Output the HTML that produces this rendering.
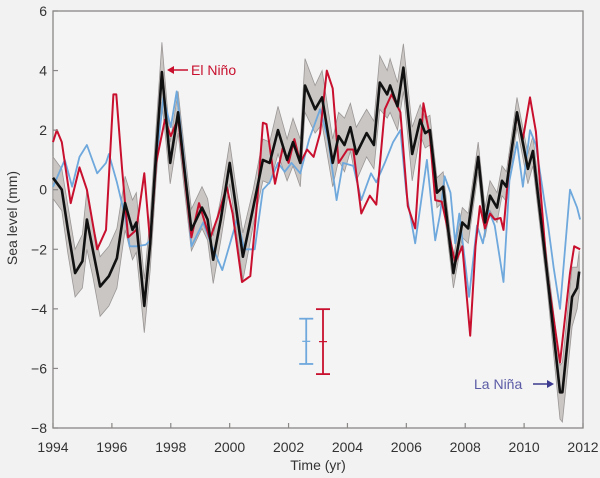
<!DOCTYPE html>
<html><head><meta charset="utf-8"><style>
html,body{margin:0;padding:0;background:#f2f2f2;}
svg{display:block;font-family:"Liberation Sans",sans-serif;}
</style></head><body>
<svg id="chart" width="600" height="478" viewBox="0 0 600 478" xmlns="http://www.w3.org/2000/svg">
<rect x="0" y="0" width="600" height="478" fill="#f2f2f2"/>
<rect x="53" y="11" width="530" height="417" fill="#f4f4f4" stroke="#8a8786" stroke-width="1.3"/>
<g id="band"></g>
<g id="series"></g>
<g id="axes"></g>
<g>
<line x1="188" y1="70" x2="170" y2="70" stroke="#c8102e" stroke-width="1.5"/>
<path d="M167,70 L174,66 L174,74 Z" fill="#c8102e"/>
<text x="191" y="75" font-size="14" fill="#c8102e">El Niño</text>
</g>
<g>
<text x="474" y="389" font-size="14" fill="#5b5aa6">La Niña</text>
<line x1="533" y1="384" x2="550" y2="384" stroke="#3c3b8f" stroke-width="1.5"/>
<path d="M554,384 L547,380 L547,388 Z" fill="#3c3b8f"/>
</g>
<text x="17" y="218" font-size="14" fill="#333" text-anchor="middle" transform="rotate(-90 17 218)">Sea level (mm)</text>
<text x="318" y="470" font-size="14" fill="#333" text-anchor="middle">Time (yr)</text>
</svg>
<script>
const blackYears=[1994.0,1994.3,1994.5,1994.75,1995.0,1995.15,1995.35,1995.6,1995.9,1996.17,1996.45,1996.7,1996.83,1997.1,1997.3,1997.5,1997.7,1997.98,1998.25,1998.45,1998.7,1999.06,1999.25,1999.44,1999.7,2000.0,2000.2,2000.45,2000.8,2001.13,2001.36,2001.64,2001.95,2002.15,2002.4,2002.56,2002.9,2003.14,2003.5,2003.7,2003.9,2004.1,2004.3,2004.65,2004.9,2005.1,2005.35,2005.45,2005.7,2005.9,2006.2,2006.47,2006.64,2006.8,2007.04,2007.25,2007.6,2007.9,2008.1,2008.44,2008.67,2008.84,2009.08,2009.25,2009.4,2009.76,2010.13,2010.3,2010.78,2011.22,2011.3,2011.63,2011.8,2011.87];
const blackValues=[0.4,0.0,-1.3,-2.8,-2.4,-1.0,-2.0,-3.25,-2.9,-2.3,-0.45,-1.35,-1.1,-3.9,-1.8,1.2,3.95,0.9,2.6,0.8,-1.35,-0.6,-1.0,-2.35,-1.0,0.9,-0.5,-2.25,-0.6,1.0,0.9,2.0,1.0,1.6,0.9,3.5,2.7,3.1,0.9,1.8,1.5,2.1,1.2,1.9,1.5,3.6,3.2,3.5,2.8,4.1,1.2,2.35,1.9,2.0,-0.1,0.1,-2.8,-1.1,-1.3,1.1,-1.1,-0.2,-0.6,0.3,0.1,2.6,0.7,1.3,-2.8,-6.8,-6.8,-3.6,-3.3,-2.75];
const bandHalf=[0.7,0.7,0.8,0.8,0.9,1.0,0.9,1.0,1.0,1.0,0.9,1.0,1.0,0.9,0.9,0.9,1.0,0.7,0.7,0.7,0.7,0.7,0.7,0.8,0.7,0.7,0.7,0.8,0.6,0.7,0.7,0.8,0.7,0.8,0.8,0.9,0.8,0.9,0.8,0.8,0.9,0.8,0.9,0.8,0.8,0.9,0.8,0.9,0.8,0.8,0.9,0.5,0.5,0.5,0.5,0.5,0.5,0.5,0.5,0.5,0.5,0.5,0.5,0.5,0.5,0.5,0.5,0.5,0.5,0.9,1.0,1.0,0.7,0.7];
const redYears=[1994.0,1994.13,1994.3,1994.6,1994.9,1995.15,1995.5,1995.8,1996.05,1996.15,1996.35,1996.55,1996.83,1997.1,1997.3,1997.5,1997.8,1998.0,1998.25,1998.7,1998.96,1999.33,1999.6,1999.9,2000.1,2000.42,2000.7,2000.93,2001.13,2001.25,2001.54,2001.8,2002.0,2002.2,2002.4,2002.63,2002.85,2003.07,2003.3,2003.5,2003.7,2004.0,2004.2,2004.47,2004.76,2004.98,2005.27,2005.5,2005.8,2006.05,2006.3,2006.58,2006.8,2006.98,2007.2,2007.66,2007.9,2008.17,2008.35,2008.5,2008.67,2008.84,2009.0,2009.2,2009.3,2009.5,2009.76,2009.96,2010.2,2010.4,2010.78,2011.22,2011.56,2011.7,2011.9];
const redValues=[1.6,2.0,1.6,-0.45,0.75,0.0,-2.0,-1.35,3.2,3.2,0.65,-1.6,-1.35,0.55,-1.8,0.9,2.35,1.8,2.4,-1.6,-0.45,-1.65,-0.9,0.1,-0.8,-3.1,-2.9,-0.45,2.25,2.2,0.2,1.4,0.9,1.7,0.9,1.35,1.1,1.9,4.0,3.4,0.9,1.35,1.35,-0.8,-0.2,-0.5,2.7,3.2,2.6,-0.55,-1.3,2.9,1.8,-0.35,-0.4,-2.45,-1.9,-4.9,-1.9,-0.55,-1.3,-0.8,-1.0,-0.95,-1.35,0.9,2.5,1.7,3.1,1.95,-2.8,-5.8,-2.8,-1.9,-2.0];
const blueYears=[1994.0,1994.4,1994.65,1994.9,1995.15,1995.5,1995.8,1995.9,1996.17,1996.45,1996.6,1996.85,1997.15,1997.3,1997.5,1997.75,1998.0,1998.2,1998.5,1998.7,1999.1,1999.4,1999.75,2000.25,2000.5,2000.85,2001.13,2001.36,2001.64,2001.87,2002.1,2002.4,2002.7,2003.07,2003.35,2003.63,2003.85,2004.2,2004.47,2004.8,2004.98,2005.27,2005.55,2005.8,2006.0,2006.3,2006.7,2006.98,2007.15,2007.3,2007.5,2007.66,2007.8,2008.13,2008.4,2008.6,2008.8,2009.0,2009.3,2009.5,2009.76,2009.96,2010.2,2010.4,2010.82,2011.0,2011.22,2011.56,2011.8,2011.9];
const blueValues=[0.1,1.0,0.1,1.1,1.5,0.55,0.9,1.2,0.25,-0.9,-1.9,-1.9,-1.85,-1.7,0.9,3.1,2.1,3.3,0.55,-1.9,-1.1,-1.9,-2.7,-1.0,-2.0,-2.0,0.0,0.25,0.9,0.6,0.9,0.55,1.7,2.7,1.65,-0.35,0.9,0.8,-0.35,0.55,0.25,0.9,1.6,2.0,-0.1,-1.8,1.0,-1.7,-0.8,0.45,-0.1,-1.8,-0.8,-3.6,-1.2,-1.8,-0.7,-1.2,-3.1,0.3,1.6,0.1,2.0,1.5,-1.25,-2.6,-4.0,0.0,-0.6,-1.0];
const xTicks=[1994,1996,1998,2000,2002,2004,2006,2008,2010,2012];
const yTicks=[6,4,2,0,-2,-4,-6,-8];
const errYears=[2002.6,2003.17];
const errCenters=[-5.09,-5.1];
const errHalf=[0.76,1.09];
const errColors=["#6ea8dc","#c8102e"];

const X0=53,X1=583,Y0=428,Y1=11;
function sx(t){return X0+(t-1994)/(2012-1994)*(X1-X0);}
function sy(v){return Y0-(v+8)/(6+8)*(Y0-Y1);}
const NS="http://www.w3.org/2000/svg";
function mk(tag,attrs,parent){const e=document.createElementNS(NS,tag);for(const k in attrs)e.setAttribute(k,attrs[k]);parent.appendChild(e);return e;}

// band
const band=document.getElementById('band');
let up=blackYears.map((t,i)=>sx(t).toFixed(1)+','+sy(blackValues[i]+bandHalf[i]).toFixed(1));
let lo=blackYears.map((t,i)=>sx(t).toFixed(1)+','+sy(blackValues[i]-bandHalf[i]).toFixed(1)).reverse();
const bp=mk('polygon',{points:up.concat(lo).join(' '),fill:'#c9c6c4',stroke:'#9a9695','stroke-width':'0.8'},band);



const sg=document.getElementById('series');
function line(years,vals,color,w,name){
  const p=mk('polyline',{points:years.map((t,i)=>sx(t).toFixed(1)+','+sy(vals[i]).toFixed(1)).join(' '),fill:'none',stroke:color,'stroke-width':w,'stroke-linejoin':'round'},sg);
  
  
}
line(blueYears,blueValues,'#6ea8dc',1.8,'blue-series-line');
line(redYears,redValues,'#c8102e',2,'red-series-line');
line(blackYears,blackValues,'#111111',2.6,'black-mean-line');

// error bars
errYears.forEach((t,i)=>{
  const g=mk('g',{stroke:errColors[i],'stroke-width':'1.8'},sg);
  
  
  const x=sx(t),a=sy(errCenters[i]+errHalf[i]),b=sy(errCenters[i]-errHalf[i]),c=sy(errCenters[i]);
  mk('line',{x1:x,y1:a,x2:x,y2:b},g);
  mk('line',{x1:x-7,y1:a,x2:x+7,y2:a},g);
  mk('line',{x1:x-7,y1:b,x2:x+7,y2:b},g);
  mk('line',{x1:x-4,y1:c,x2:x+4,y2:c,'stroke-width':'1.2'},g);
});

// axes
const ax=document.getElementById('axes');
xTicks.forEach(t=>{
  const x=sx(t);
  const tl=mk('line',{x1:x,y1:Y0,x2:x,y2:Y0-5,stroke:'#8a8786','stroke-width':'1.2'},ax);
  
  
  const tx=mk('text',{x:x,y:452,'font-size':'14',fill:'#333','text-anchor':'middle'},ax);
  tx.textContent=t;
  
  
});
yTicks.forEach(v=>{
  const y=sy(v);
  const tl=mk('line',{x1:X0,y1:y,x2:X0+5,y2:y,stroke:'#8a8786','stroke-width':'1.2'},ax);
  
  
  const tx=mk('text',{x:47,y:y+5,'font-size':'14',fill:'#333','text-anchor':'end'},ax);
  tx.textContent=v<0?'\u2212'+Math.abs(v):String(v);
  
  
});
</script>
</body></html>
